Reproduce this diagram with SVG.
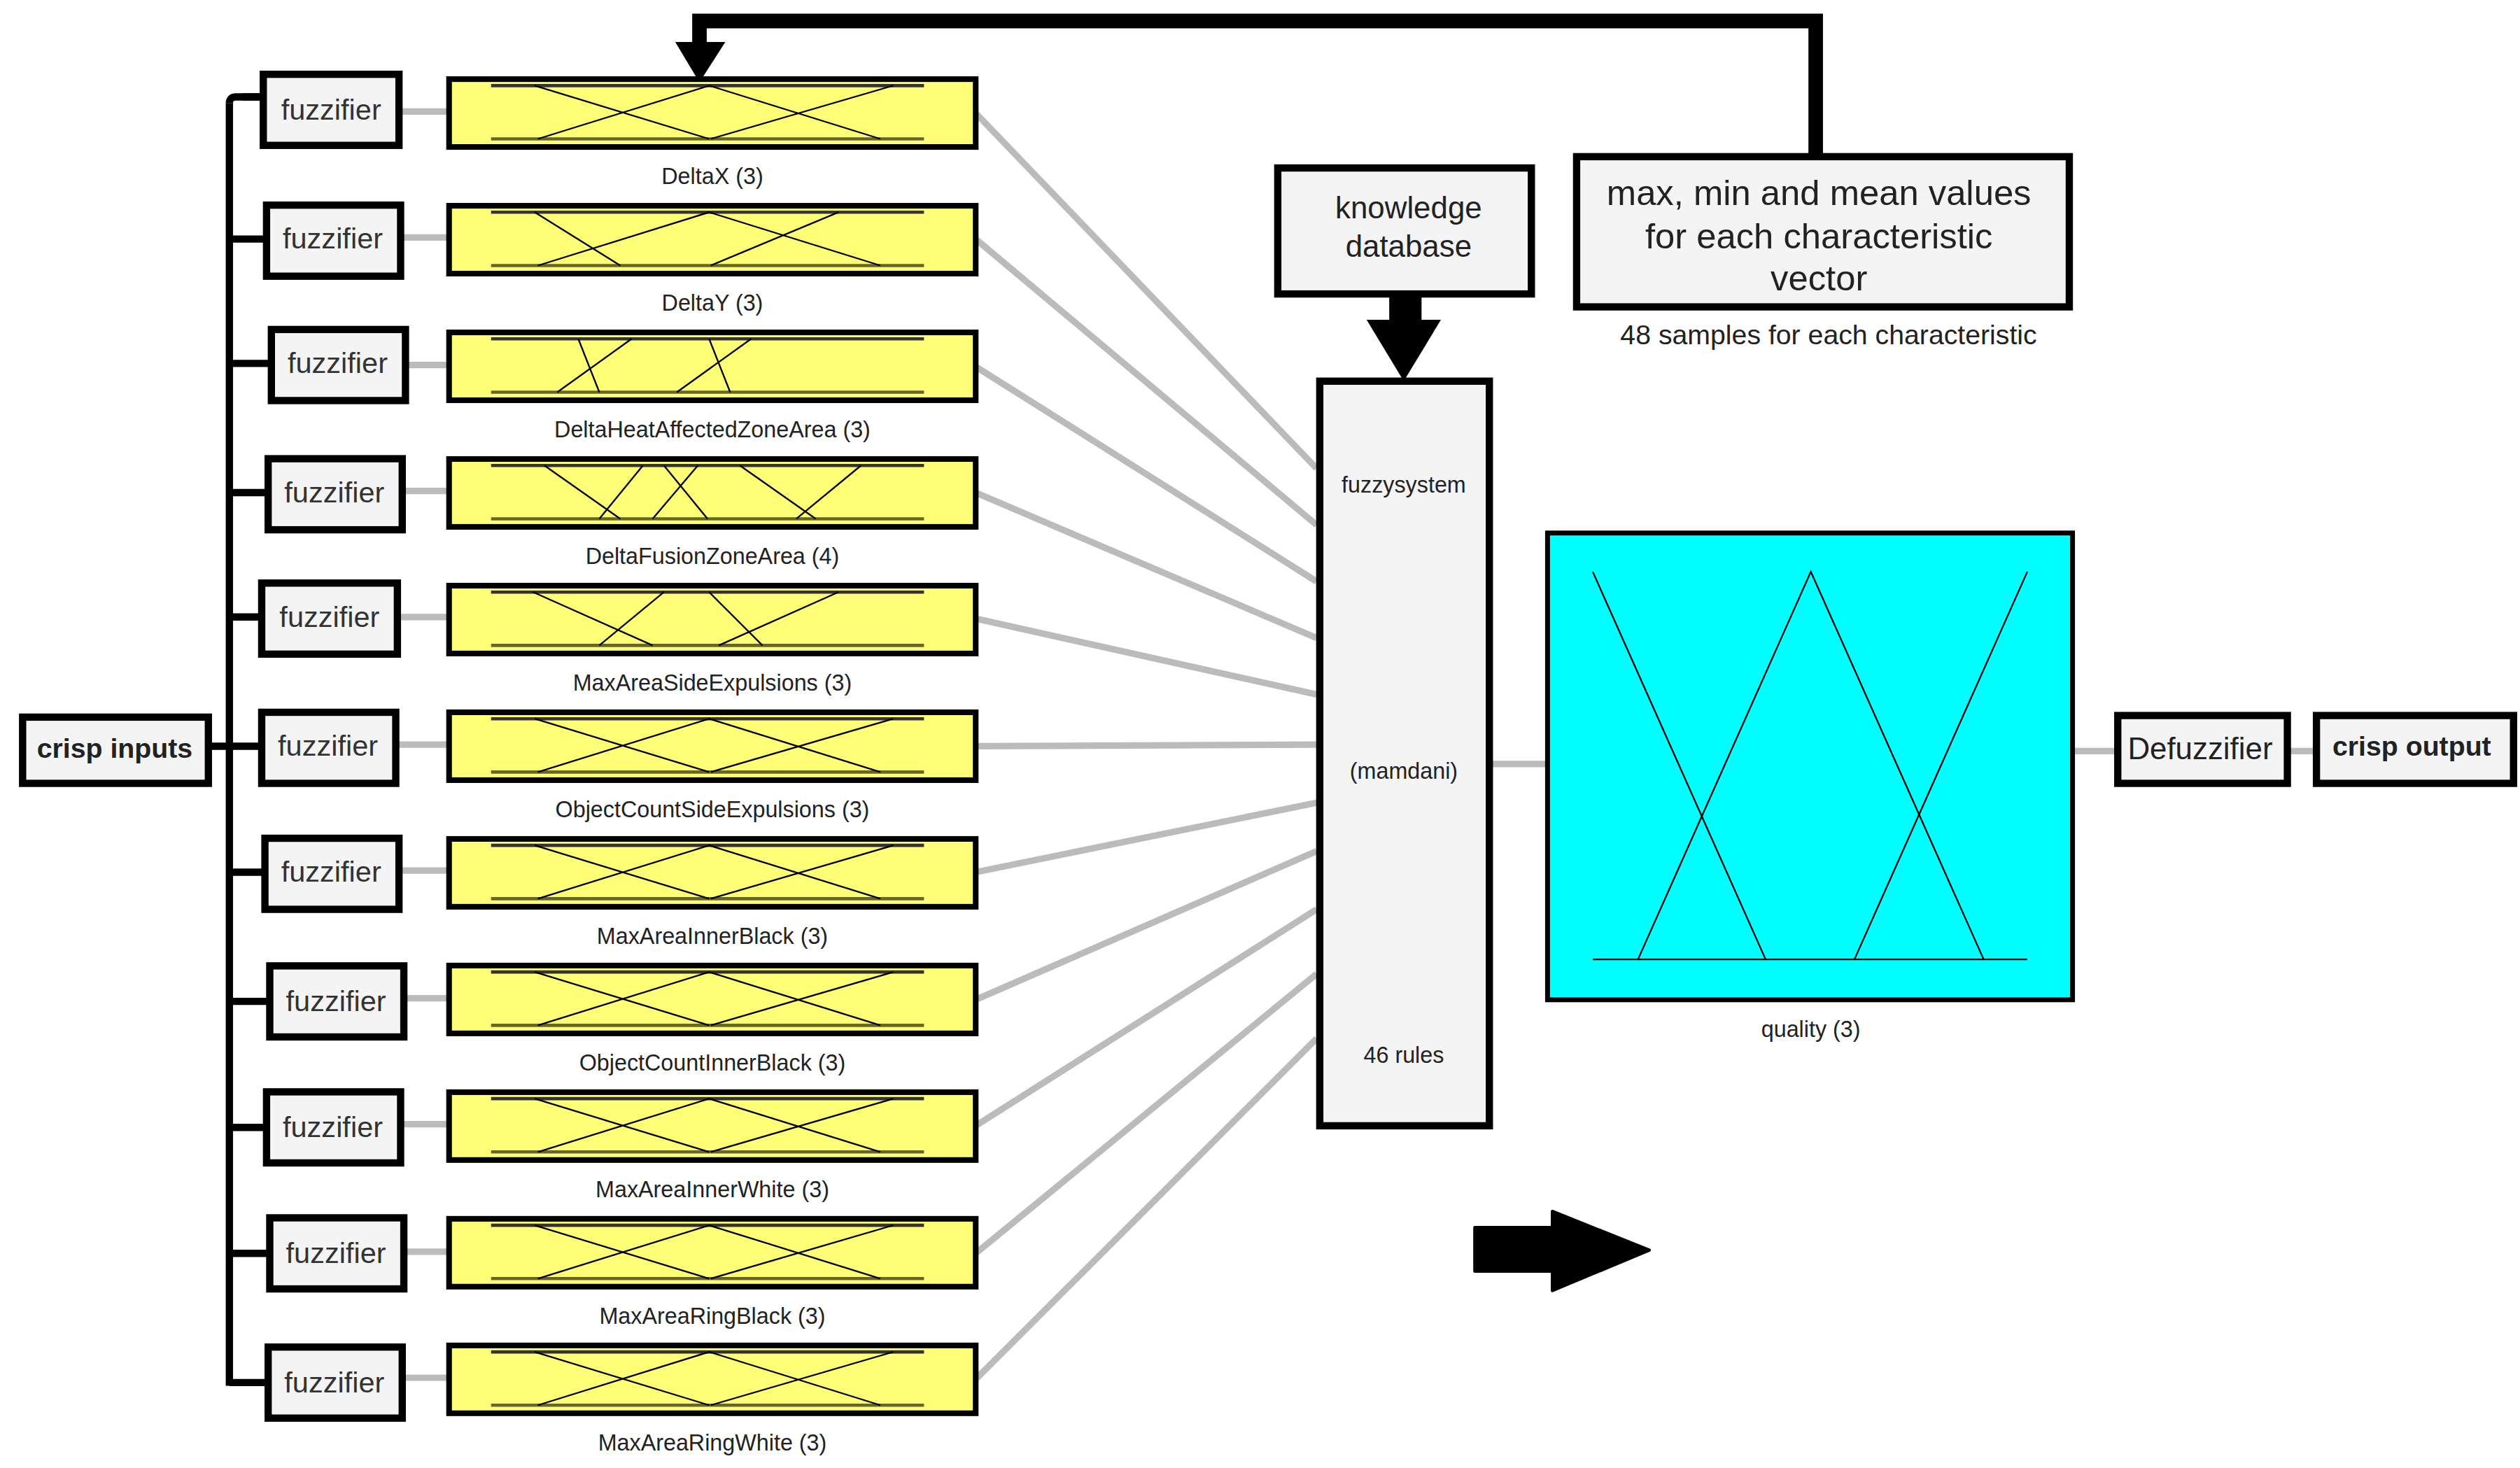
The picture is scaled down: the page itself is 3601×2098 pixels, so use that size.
<svg xmlns="http://www.w3.org/2000/svg" width="3601" height="2098" viewBox="0 0 3601 2098">
<style>
text{font-family:"Liberation Sans",Arial,sans-serif;fill:#222}
.fz{fill:#f4f4f4;stroke:#000;stroke-width:4.5}
.fzt{font-size:18px;text-anchor:middle;fill:#333}
.yb{fill:#ffff77;stroke:#000;stroke-width:3.5}
.top{stroke:#333;stroke-width:2}
.base{stroke:#66662a;stroke-width:2}
.mf{stroke:#000;stroke-width:1;fill:none}
.lbl{font-size:14px;text-anchor:middle}
.gl{stroke:#bbb;stroke-width:4;fill:none}
.bk{stroke:#000;fill:none}
</style>
<defs>
<g id="std">
<path class="mf" d="M331,4 L439,37 M333,37 L439,4 L545,37 M440,37 L553,4"/>
</g>
</defs>
<rect width="3601" height="2098" fill="#fff"/>
<g transform="scale(2.30833)">
<g id="connectors">
<path class="bk" stroke-width="9" d="M433,30 V13 H1124 V97"/>
<polygon points="418,26 449,26 433,51" fill="#000"/>
<path class="bk" stroke-width="4.5" d="M129,462 H142 M150,60 H163 M142,64 V858"/>
<path class="bk" stroke-width="4.5" d="M142,148 H165 M142,225 H168 M142,305 H166 M142,382 H162 M142,462 H162 M142,540 H164 M142,620 H167 M142,698 H165 M142,776 H167 M142,856 H166"/>
<path class="bk" stroke-width="4.5" d="M142,64 Q142,60 146,60 H163"/>
<g class="gl">
<path d="M247,69 H278 M248,147 H278 M251,226 H278 M249,304 H278 M246,382 H278 M245,461 H278 M247,539 H278 M250,618 H278 M248,696 H278 M250,775 H278 M249,853 H278"/>
<path d="M604,70 L815,290 M604,148 L815,325 M604,227 L815,360 M604,305 L815,395 M604,383 L815,430 M604,462 L815,461 M604,540 L815,497 M604,619 L815,527 M604,697 L815,563 M604,776 L815,603 M604,854 L815,643"/>
<path d="M922,473 H958 M1283,465 H1311 M1416,465 H1434"/>
</g>
<rect x="860" y="182" width="20" height="18" fill="#000"/>
<polygon points="846,198 892,198 869,236" fill="#000"/>
<path d="M913,760 H961 V750 L1021,774 L961,799 V787 H913 Z" fill="#000" stroke="#000" stroke-width="2" stroke-linejoin="round"/>
</g>
<g id="crisp-inputs"><rect class="fz" x="14" y="444" width="115" height="41"/><text x="71" y="469" font-size="17" font-weight="bold" text-anchor="middle" fill="#000">crisp inputs</text></g>
<g id="fuzzifiers">
<rect class="fz" x="163" y="46" width="84" height="44"/><text class="fzt" x="205" y="74">fuzzifier</text>
<rect class="fz" x="165" y="127" width="83" height="44"/><text class="fzt" x="206" y="154">fuzzifier</text>
<rect class="fz" x="168" y="204" width="83" height="44"/><text class="fzt" x="209" y="231">fuzzifier</text>
<rect class="fz" x="166" y="284" width="83" height="44"/><text class="fzt" x="207" y="311">fuzzifier</text>
<rect class="fz" x="162" y="361" width="84" height="44"/><text class="fzt" x="204" y="388">fuzzifier</text>
<rect class="fz" x="162" y="441" width="83" height="44"/><text class="fzt" x="203" y="468">fuzzifier</text>
<rect class="fz" x="164" y="519" width="83" height="44"/><text class="fzt" x="205" y="546">fuzzifier</text>
<rect class="fz" x="167" y="598" width="83" height="44"/><text class="fzt" x="208" y="626">fuzzifier</text>
<rect class="fz" x="165" y="676" width="83" height="44"/><text class="fzt" x="206" y="704">fuzzifier</text>
<rect class="fz" x="167" y="754" width="83" height="44"/><text class="fzt" x="208" y="782">fuzzifier</text>
<rect class="fz" x="166" y="834" width="83" height="44"/><text class="fzt" x="207" y="862">fuzzifier</text>
</g>
<g id="inputs">
<g transform="translate(0,49)"><rect class="yb" x="278" y="0" width="326" height="42"/><path class="top" d="M304,4 H572"/><path class="base" d="M304,37 H572"/><use href="#std"/><text class="lbl" x="441" y="65">DeltaX (3)</text></g>
<g transform="translate(0,127.4)"><rect class="yb" x="278" y="0" width="326" height="42"/><path class="top" d="M304,4 H572"/><path class="base" d="M304,37 H572"/><path class="mf" d="M331,4 L384,37 M333,37 L439,4 L545,37 M440,37 L519,4"/><text class="lbl" x="441" y="65">DeltaY (3)</text></g>
<g transform="translate(0,205.8)"><rect class="yb" x="278" y="0" width="326" height="42"/><path class="top" d="M304,4 H572"/><path class="base" d="M304,37 H572"/><path class="mf" d="M358,4 L371,37 M345,37 L391,4 M439,4 L452,37 M419,37 L465,4"/><text class="lbl" x="441" y="65">DeltaHeatAffectedZoneArea (3)</text></g>
<g transform="translate(0,284.2)"><rect class="yb" x="278" y="0" width="326" height="42"/><path class="top" d="M304,4 H572"/><path class="base" d="M304,37 H572"/><path class="mf" d="M337,4 L384,37 M371,37 L398,4 M411,4 L438,37 M404,37 L432,4 M458,4 L505,37 M493,37 L533,4"/><text class="lbl" x="441" y="65">DeltaFusionZoneArea (4)</text></g>
<g transform="translate(0,362.6)"><rect class="yb" x="278" y="0" width="326" height="42"/><path class="top" d="M304,4 H572"/><path class="base" d="M304,37 H572"/><path class="mf" d="M330,4 L404,37 M371,37 L411,4 M439,4 L472,37 M445,37 L519,4"/><text class="lbl" x="441" y="65">MaxAreaSideExpulsions (3)</text></g>
<g transform="translate(0,441)"><rect class="yb" x="278" y="0" width="326" height="42"/><path class="top" d="M304,4 H572"/><path class="base" d="M304,37 H572"/><use href="#std"/><text class="lbl" x="441" y="65">ObjectCountSideExpulsions (3)</text></g>
<g transform="translate(0,519.4)"><rect class="yb" x="278" y="0" width="326" height="42"/><path class="top" d="M304,4 H572"/><path class="base" d="M304,37 H572"/><use href="#std"/><text class="lbl" x="441" y="65">MaxAreaInnerBlack (3)</text></g>
<g transform="translate(0,597.8)"><rect class="yb" x="278" y="0" width="326" height="42"/><path class="top" d="M304,4 H572"/><path class="base" d="M304,37 H572"/><use href="#std"/><text class="lbl" x="441" y="65">ObjectCountInnerBlack (3)</text></g>
<g transform="translate(0,676.2)"><rect class="yb" x="278" y="0" width="326" height="42"/><path class="top" d="M304,4 H572"/><path class="base" d="M304,37 H572"/><use href="#std"/><text class="lbl" x="441" y="65">MaxAreaInnerWhite (3)</text></g>
<g transform="translate(0,754.6)"><rect class="yb" x="278" y="0" width="326" height="42"/><path class="top" d="M304,4 H572"/><path class="base" d="M304,37 H572"/><use href="#std"/><text class="lbl" x="441" y="65">MaxAreaRingBlack (3)</text></g>
<g transform="translate(0,833)"><rect class="yb" x="278" y="0" width="326" height="42"/><path class="top" d="M304,4 H572"/><path class="base" d="M304,37 H572"/><use href="#std"/><text class="lbl" x="441" y="65">MaxAreaRingWhite (3)</text></g>
</g>
<g id="knowledge"><rect class="fz" x="791" y="104" width="157" height="78" stroke-width="5"/><text x="872" y="135" font-size="19" text-anchor="middle" fill="#000">knowledge</text><text x="872" y="159" font-size="19" text-anchor="middle" fill="#000">database</text></g>
<g id="stats"><rect class="fz" x="976" y="97" width="305" height="93" stroke-width="5"/>
<text x="1126" y="127" font-size="22" text-anchor="middle" fill="#000">max, min and mean values</text>
<text x="1126" y="154" font-size="22" text-anchor="middle" fill="#000">for each characteristic</text>
<text x="1126" y="180" font-size="22" text-anchor="middle" fill="#000">vector</text>
<text x="1132" y="213" font-size="17" text-anchor="middle" fill="#000">48 samples for each characteristic</text></g>
<g id="fuzzysystem"><rect class="fz" x="817" y="236" width="105" height="461" stroke-width="5"/>
<text x="869" y="305" font-size="14" text-anchor="middle">fuzzysystem</text>
<text x="869" y="482" font-size="14" text-anchor="middle">(mamdani)</text>
<text x="869" y="658" font-size="14" text-anchor="middle">46 rules</text></g>
<g id="quality"><rect x="958" y="330" width="325" height="289" fill="#00ffff" stroke="#000" stroke-width="3"/>
<path class="mf" d="M986,594 H1255 M986,354 L1093,594 M1014,594 L1121,354 L1228,594 M1148,594 L1255,354"/>
<text x="1121" y="642" font-size="14" text-anchor="middle">quality (3)</text></g>
<g id="defuzzifier"><rect class="fz" x="1311" y="443" width="105" height="42"/><text x="1362" y="470" font-size="19" text-anchor="middle" fill="#444">Defuzzifier</text></g>
<g id="crisp-output"><rect class="fz" x="1434" y="443" width="122" height="42"/><text x="1493" y="468" font-size="17" font-weight="bold" text-anchor="middle" fill="#000">crisp output</text></g>
</g>
</svg>
